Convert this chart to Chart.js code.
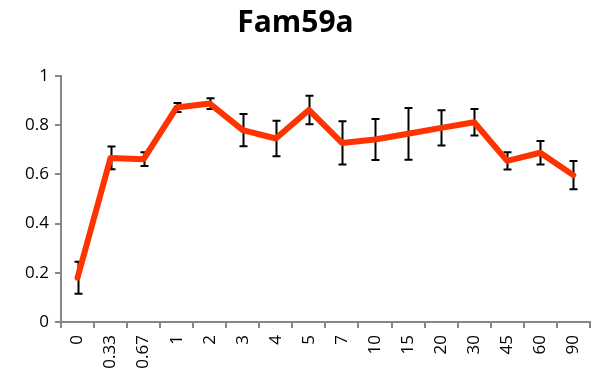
<!DOCTYPE html>
<html>
<head>
<meta charset="utf-8">
<script src="https://cdn.jsdelivr.net/npm/chart.js@4/dist/chart.umd.min.js"></script>
<style>
  body { margin: 0; background: #fff; }
  #wrap { width: 601px; height: 379px; }
</style>
</head>
<body>
<div id="wrap"><canvas id="line-chart" width="601" height="379"></canvas></div>
<script>
var labels = ["0", "0.33", "0.67", "1", "2", "3", "4", "5", "7", "10", "15", "20", "30", "45", "60", "90"];
var values = [0.18, 0.667, 0.662, 0.872, 0.888, 0.78, 0.746, 0.862, 0.728, 0.742, 0.765, 0.789, 0.812, 0.655, 0.688, 0.597];
var errors = [0.065, 0.046, 0.028, 0.018, 0.022, 0.066, 0.072, 0.058, 0.088, 0.083, 0.105, 0.072, 0.054, 0.035, 0.048, 0.057];
var yTicks = [0, 0.2, 0.4, 0.6, 0.8, 1];

// error bars drawn under the line
var errorBars = {
  id: 'errorBars',
  beforeDatasetsDraw: function(chart) {
    var ctx = chart.ctx;
    var xs = chart.scales.x, ys = chart.scales.y;
    ctx.save();
    ctx.strokeStyle = '#000';
    ctx.lineWidth = 2;
    for (var i = 0; i < values.length; i++) {
      var x = Math.round(xs.getPixelForValue(i)) + 0.5;
      var top = ys.getPixelForValue(values[i] + errors[i]);
      var bot = ys.getPixelForValue(values[i] - errors[i]);
      ctx.beginPath();
      ctx.moveTo(x, top); ctx.lineTo(x, bot);
      ctx.moveTo(x - 4, top); ctx.lineTo(x + 4, top);
      ctx.moveTo(x - 4, bot); ctx.lineTo(x + 4, bot);
      ctx.stroke();
    }
    ctx.restore();
  }
};

new Chart(document.getElementById("line-chart"), {
  type: 'line',
  data: {
    labels: labels,
    datasets: [{
      data: values,
      borderColor: '#ff3300',
      backgroundColor: '#ff3300',
      borderWidth: 6,
      pointRadius: 0,
      tension: 0,
      borderJoinStyle: 'round',
      borderCapStyle: 'round'
    }]
  },
  options: {
    responsive: false,
    animation: false,
    layout: { padding: { left: 0, right: 10, top: 0, bottom: 0 } },
    plugins: {
      legend: { display: false },
      tooltip: { enabled: false },
      title: {
        display: true,
        text: 'Fam59a',
        color: '#000',
        font: { family: 'Open Sans', size: 30, weight: 'bold' },
        padding: { top: 5, bottom: 35 }
      }
    },
    scales: {
      x: {
        offset: true,
        grid: { offset: true, drawOnChartArea: false, drawTicks: true, tickLength: 6, color: '#868686', lineWidth: 2 },
        border: { color: '#868686', width: 2 },
        ticks: { color: '#000', font: { family: 'Open Sans', size: 17 }, minRotation: 90, maxRotation: 90, padding: 7, autoSkip: false },
        afterFit: function(s) { s.height = 57; }
      },
      y: {
        min: 0, max: 1,
        afterBuildTicks: function(s) { s.ticks = yTicks.map(function(v) { return { value: v }; }); },
        grid: { drawOnChartArea: false, drawTicks: true, tickLength: 6, color: '#868686', lineWidth: 2 },
        border: { color: '#868686', width: 2 },
        ticks: { color: '#000', font: { family: 'Open Sans', size: 17 }, padding: 6,
          callback: function(v) { return String(v); } },
        afterFit: function(s) { s.width = 61; }
      }
    }
  },
  plugins: [errorBars]
});
</script>
</body>
</html>
